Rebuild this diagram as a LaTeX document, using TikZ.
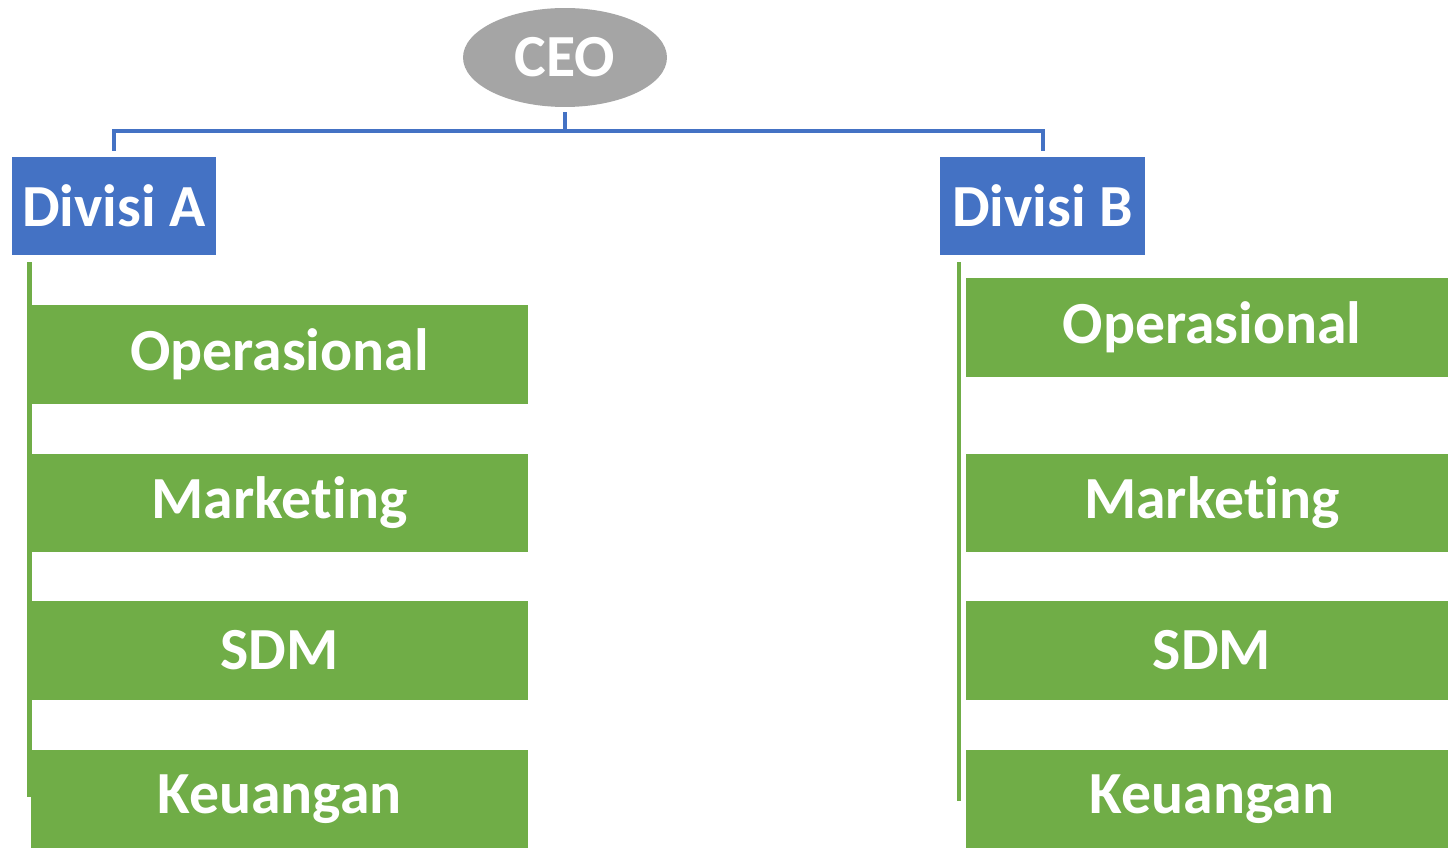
\documentclass[tikz,border=0pt]{standalone}
\usepackage{fontspec}
\setmainfont[Ligatures={NoCommon,NoRare},Contextuals={NoAlternate}]{Carlito}
\usetikzlibrary{shapes.geometric}
\definecolor{ceogray}{HTML}{A5A5A5}
\definecolor{divblue}{HTML}{4472C4}
\definecolor{unitgreen}{HTML}{70AD47}
\tikzset{
  lbl/.style={text=white, font=\bfseries\fontsize{34}{40}\selectfont, inner sep=0pt},
  ceobox/.style={lbl, ellipse, fill=ceogray, minimum width=4.08cm, minimum height=1.98cm},
  divbox/.style={lbl, rectangle, fill=divblue, minimum height=1.96cm},
  unitbox/.style={lbl, rectangle, fill=unitgreen, minimum height=1.98cm},
  leftunit/.style={unitbox, minimum width=9.94cm},
  rightunit/.style={unitbox, minimum width=9.84cm},
  bconn/.style={draw=divblue, line width=0.08cm},
  gconn/.style={draw=unitgreen, line width=0.09cm}
}
\begin{document}
\begin{tikzpicture}[x=0.02cm, y=-0.02cm]
\useasboundingbox (0,0) rectangle (1448,848);
\clip (0,0) rectangle (1448,848);
\fill[white] (0,0) rectangle (1448,848);

% green trunk lines (behind boxes)
\coordinate (la) at (29.5,262);
\coordinate (lb) at (29.5,797);
\coordinate (ra) at (959,262);
\coordinate (rb) at (959,801);
\draw[gconn] (la) -- (lb);
\draw[gconn] (ra) -- (rb);

% nodes
\node[ceobox] (ceo) at (565,57.5) {CEO};
\node[divbox, minimum width=4.08cm] (divA) at (114,206) {Divisi A};
\node[divbox, minimum width=4.10cm] (divB) at (1042.5,206) {Divisi B};

\node[leftunit] (aop) at (279.5,354.5) {Operasional};
\node[leftunit] (amk) at (279.5,503) {Marke\kern0pt ting};
\node[leftunit] (asd) at (279.5,650.5) {SDM};
\node[leftunit] (ake) at (279.5,799) {Keuangan};

\node[rightunit] (bop) at (1212,327.5) {Operasional};
\node[rightunit] (bmk) at (1212,503) {Marke\kern0pt ting};
\node[rightunit] (bsd) at (1212,650.5) {SDM};
\node[rightunit] (bke) at (1212,799) {Keuangan};

% blue connectors
\draw[bconn, shorten <=0.1cm, shorten >=0.12cm] (ceo.south) -- ++(0,24) -| (divA.north);
\draw[bconn, shorten <=0.1cm, shorten >=0.12cm] (ceo.south) -- ++(0,24) -| (divB.north);
\end{tikzpicture}
\end{document}
